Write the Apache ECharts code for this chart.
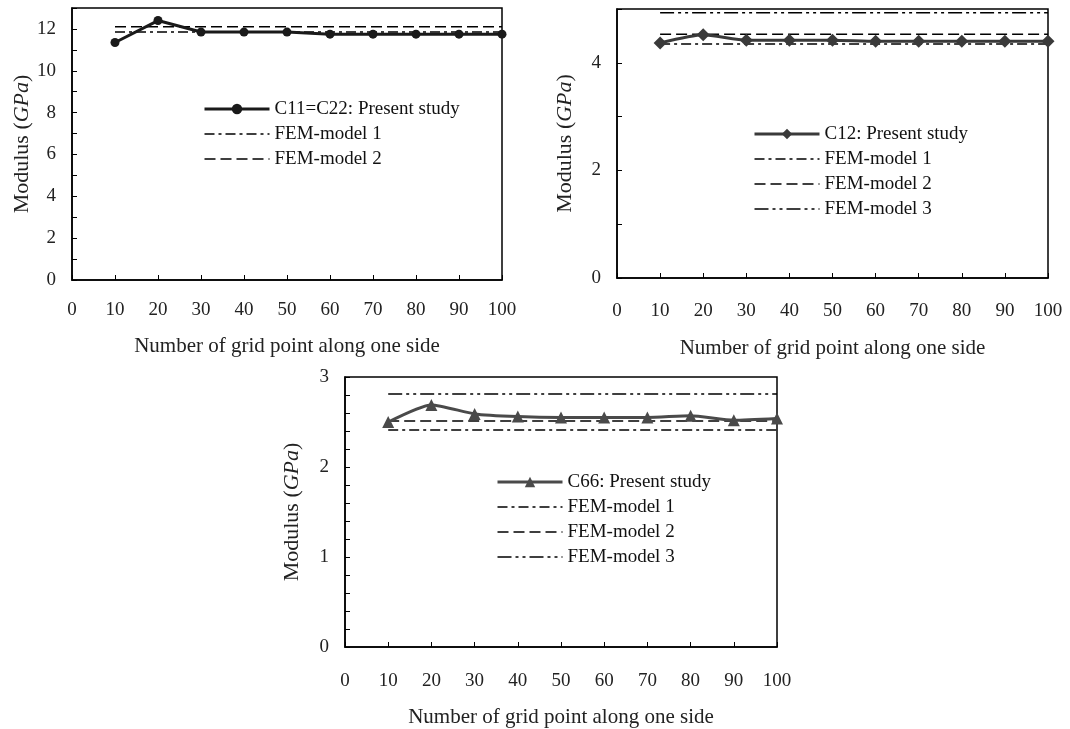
<!DOCTYPE html>
<html>
<head>
<meta charset="utf-8">
<script src="https://cdn.jsdelivr.net/npm/echarts@6/dist/echarts.min.js"></script>
<style>
  html, body { margin: 0; padding: 0; background: #fff; }
  #chart { width: 1070px; height: 729px; }
</style>
</head>
<body>
<div id="chart"></div>
<script>
// grid points along one side (x values)
const gridPoints = [10, 20, 30, 40, 50, 60, 70, 80, 90, 100]

// C11 = C22
const c11Values = [11.35, 12.4, 11.85, 11.85, 11.85, 11.75, 11.75, 11.75, 11.75, 11.75]
const c11Fem = [11.85, 12.1]              // FEM-model 1, FEM-model 2

// C12
const c12Values = [4.37, 4.52, 4.42, 4.42, 4.42, 4.40, 4.40, 4.40, 4.40, 4.40]
const c12Fem = [4.35, 4.53, 4.93]         // FEM-model 1, 2, 3

// C66
const c66Values = [2.5, 2.69, 2.59, 2.56, 2.55, 2.55, 2.55, 2.57, 2.52, 2.54]
const c66Fem = [2.41, 2.51, 2.81]         // FEM-model 1, 2, 3

const femNames = ['FEM-model 1', 'FEM-model 2', 'FEM-model 3']
const femDash = [[10, 4, 3, 4], [11, 5], [14, 4, 3, 4, 3, 4]]

const FONT = 'Liberation Serif'
const chart = echarts.init(document.getElementById('chart'))

// only label whole numbers that are multiples of step
const labelEvery = (step) => (v) => {
  const r = Math.round(v)
  return Math.abs(v - r) < 1e-6 && r % step === 0 ? String(r) : ''
}

const makeX = (gridIndex, margin, nameGap) => ({
  type: 'value',
  gridIndex,
  min: 0,
  max: 100,
  interval: 10,
  name: 'Number of grid point along one side',
  nameLocation: 'middle',
  nameGap,
  nameTextStyle: { fontFamily: FONT, fontSize: 21, color: '#222' },
  axisLine: { show: true, lineStyle: { color: '#000', width: 1.5 } },
  axisTick: { show: true, inside: true, length: 5, lineStyle: { color: '#000' } },
  axisLabel: { fontFamily: FONT, fontSize: 19, color: '#222', margin },
  splitLine: { show: false }
})

const makeY = (gridIndex, max, interval, step, nameGap) => ({
  type: 'value',
  gridIndex,
  min: 0,
  max,
  interval,
  name: 'Modulus ({i|GPa})',
  nameLocation: 'middle',
  nameGap,
  nameTextStyle: {
    fontFamily: FONT, fontSize: 22, color: '#222',
    rich: { i: { fontFamily: FONT, fontSize: 22, fontStyle: 'italic', color: '#222' } }
  },
  axisLine: { show: true, lineStyle: { color: '#000', width: 1.5 } },
  axisTick: { show: true, inside: true, length: 5, lineStyle: { color: '#000' } },
  axisLabel: { fontFamily: FONT, fontSize: 19, color: '#222', margin: 16, formatter: labelEvery(step) },
  splitLine: { show: false }
})

const mainSeries = (name, idx, values, symbol, symbolSize, color, smooth) => ({
  name,
  type: 'line',
  xAxisIndex: idx,
  yAxisIndex: idx,
  data: gridPoints.map((x, i) => [x, values[i]]),
  symbol,
  symbolSize,
  smooth,
  itemStyle: { color },
  lineStyle: { color, width: 3 },
  z: 5
})

const femSeries = (idx, fems) => fems.map((v, k) => ({
  name: femNames[k],
  type: 'line',
  xAxisIndex: idx,
  yAxisIndex: idx,
  data: [[gridPoints[0], v], [gridPoints[gridPoints.length - 1], v]],
  symbol: 'none',
  itemStyle: { color: '#000' },
  lineStyle: { color: '#000', width: 1.5, type: femDash[k] },
  z: 3
}))

const makeLegend = (left, top, mainName, femCount) => ({
  left,
  top,
  padding: 0,
  orient: 'vertical',
  data: [
    { name: mainName, lineStyle: { width: 3 } },
    ...femNames.slice(0, femCount).map((n) => ({
      name: n,
      itemStyle: { opacity: 0 },
      lineStyle: { width: 1.5 }
    }))
  ],
  itemWidth: 65,
  itemHeight: 13,
  itemGap: 5,
  textStyle: { fontFamily: FONT, fontSize: 19, color: '#111', lineHeight: 20 }
})

const gridBox = { show: true, borderColor: '#000', borderWidth: 1.5, containLabel: false }

chart.setOption({
  animation: false,
  grid: [
    { ...gridBox, left: 72, top: 8, width: 430, height: 272 },
    { ...gridBox, left: 617, top: 9, width: 431, height: 269 },
    { ...gridBox, left: 345, top: 377, width: 432, height: 270 }
  ],
  xAxis: [makeX(0, 21, 56), makeX(1, 24, 60), makeX(2, 25, 60)],
  yAxis: [makeY(0, 13, 1, 2, 39), makeY(1, 5, 1, 2, 41), makeY(2, 3, 0.2, 1, 42)],
  legend: [
    makeLegend(203, 99, 'C11=C22: Present study', 2),
    makeLegend(753, 124, 'C12: Present study', 3),
    makeLegend(496, 472, 'C66: Present study', 3)
  ],
  series: [
    mainSeries('C11=C22: Present study', 0, c11Values, 'circle', 9, '#1a1a1a', false),
    ...femSeries(0, c11Fem),
    mainSeries('C12: Present study', 1, c12Values, 'diamond', 13, '#3a3a3a', 0.2),
    ...femSeries(1, c12Fem),
    mainSeries('C66: Present study', 2, c66Values, 'triangle', 12, '#4a4a4a', 0.2),
    ...femSeries(2, c66Fem)
  ]
})
</script>
</body>
</html>
